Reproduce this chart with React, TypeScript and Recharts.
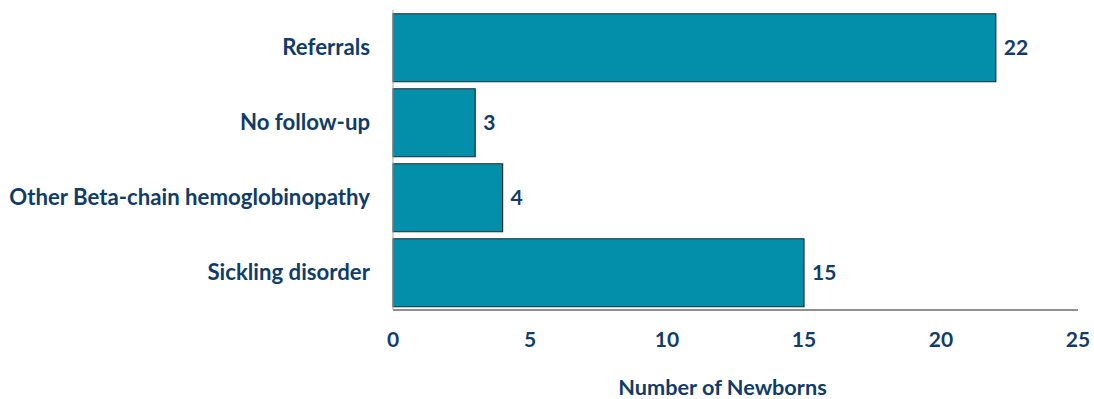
import { Bar, BarChart, LabelList, XAxis, YAxis, Label } from "recharts"

const categories = ["Referrals", "No follow-up", "Other Beta-chain hemoglobinopathy", "Sickling disorder"]
const newborns = [22, 3, 4, 15]
const xTicks = [0, 5, 10, 15, 20, 25]

const data = categories.map((name, i) => ({ name, newborns: newborns[i] }))

const navy = "#0f3c69"
const font = "Lato, 'Open Sans', sans-serif"

export default function App() {
  return (
    <div style={{ position: "absolute", left: 0, top: 0, background: "#fff" }}>
      <BarChart
        width={1094}
        height={399}
        data={data}
        layout="vertical"
        margin={{ top: 10, right: 16, bottom: 0, left: 0 }}
        barCategoryGap="5%"
      >
        <XAxis
          type="number"
          domain={[0, 25]}
          ticks={xTicks}
          height={89}
          tickLine={false}
          tickSize={0}
          tickMargin={22}
          stroke="#222"
          tick={{ fill: navy, fontSize: 21, fontWeight: 700, fontFamily: font }}
        >
          <Label
            value="Number of Newborns"
            position="insideBottom"
            offset={4}
            dx={-13}
            fill={navy}
            fontSize={21.7}
            fontWeight={700}
            fontFamily={font}
          />
        </XAxis>
        <YAxis
          type="category"
          dataKey="name"
          width={393}
          tickLine={false}
          tickSize={0}
          tickMargin={23}
          stroke="#a6a6a6"
          tick={{ fill: navy, fontSize: 22.2, fontWeight: 700, fontFamily: font }}
        />
        <Bar dataKey="newborns" fill="#038fa9" stroke="#1e2b30" strokeWidth={1.2} isAnimationActive={false}>
          <LabelList
            dataKey="newborns"
            position="right"
            offset={8}
            fill={navy}
            fontSize={21}
            fontWeight={700}
            fontFamily={font}
          />
        </Bar>
      </BarChart>
    </div>
  )
}
